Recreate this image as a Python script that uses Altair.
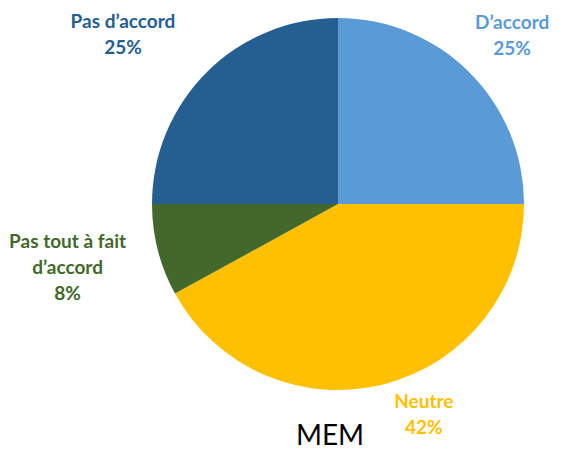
import altair as alt
import pandas as pd

categories = ["D\u2019accord", "Neutre", "Pas tout \u00e0 fait d\u2019accord", "Pas d\u2019accord"]
values = [25, 42, 8, 25]
colors = ["#5B9BD5", "#FFC000", "#43682B", "#255E91"]
label_texts = ["D\u2019accord\n25%", "Neutre\n42%", "Pas tout \u00e0 fait\nd\u2019accord\n8%", "Pas d\u2019accord\n25%"]
# label placement of the first line (angle in percent of the circle, distance from centre in px)
label_angle = [12.2, 43.5, 72.8, 86.2]
label_dist = [251, 216, 273, 282]
chart_title = "MEM"

pie_df = pd.DataFrame({"cat": categories, "val": values, "order": [0, 1, 2, 3]})
lab_df = pd.DataFrame({"cat": categories, "text": label_texts, "ang": label_angle, "dist": label_dist})
title_df = pd.DataFrame({"t": [chart_title]})

color_scale = alt.Scale(domain=categories, range=colors)
cx, cy = 330, 196

pie = alt.Chart(pie_df).mark_arc(outerRadius=186, stroke=None).encode(
    theta=alt.Theta("val:Q", stack=True, scale=alt.Scale(domain=[0, 100])),
    order=alt.Order("order:Q"),
    color=alt.Color("cat:N", scale=color_scale, legend=None),
    x=alt.value(cx),
    y=alt.value(cy),
)

labels = alt.Chart(lab_df).mark_text(
    font="Lato", fontWeight="bold", fontSize=19, lineBreak="\n", lineHeight=26,
    align="center", baseline="middle",
).encode(
    theta=alt.Theta("ang:Q", stack=None, scale=alt.Scale(domain=[0, 100])),
    radius=alt.Radius("dist:Q", scale=None),
    text="text:N",
    color=alt.Color("cat:N", scale=color_scale, legend=None),
    x=alt.value(cx),
    y=alt.value(cy),
)

title = alt.Chart(title_df).mark_text(
    font="Lato", fontSize=28, color="#000000", align="center", baseline="middle"
).encode(
    text="t:N",
    x=alt.value(322),
    y=alt.value(429),
)

chart = alt.layer(pie, labels, title).properties(
    width=550,
    height=442,
    padding=0,
    autosize=alt.AutoSizeParams(type="none"),
).configure(background="#ffffff").configure_view(stroke=None, strokeWidth=0)

chart.save("out.html", embed_options={"renderer": "svg", "actions": False})
